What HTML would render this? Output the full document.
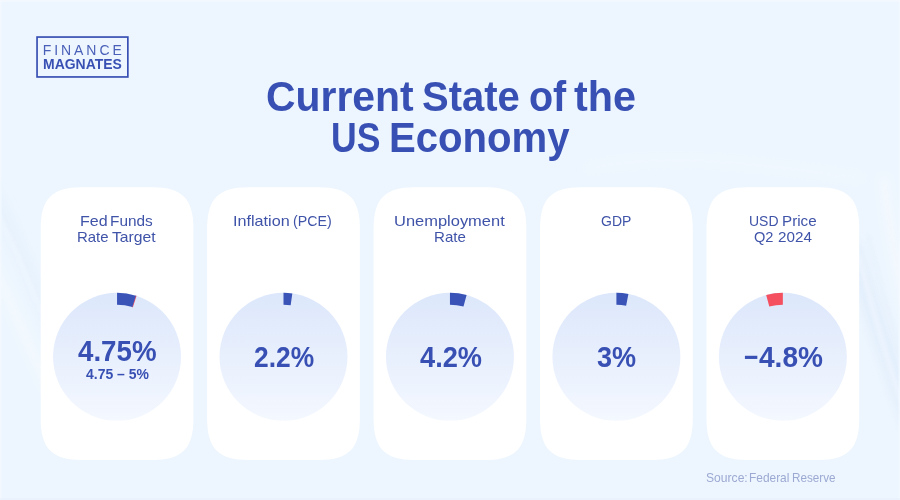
<!DOCTYPE html>
<html lang="en">
<head>
<meta charset="utf-8">
<title>Current State of the US Economy</title>
<style>
html,body{margin:0;padding:0;}
body{width:900px;height:500px;overflow:hidden;background:#edf6fe;font-family:"Liberation Sans",sans-serif;color:#3850b3;}
.stage{position:relative;width:900px;height:500px;overflow:hidden;background:#edf6fe;}
.bg,.art{position:absolute;left:0;top:0;}
.card{position:absolute;top:187.2px;width:152.7px;height:272.8px;border-radius:33px;}
.head,.logo,.foot{position:absolute;left:0;top:0;width:900px;height:0;margin:0;font-size:inherit;font-weight:inherit;}
.t{position:absolute;left:0;width:900px;height:0;line-height:1;font-weight:400;}
.w{position:absolute;top:0;white-space:pre;line-height:1;transform-origin:0 0;}
.title,.value,.sub,.logo2{font-weight:700;}
.label{color:#3f53a8;}
</style>
</head>
<body>
<div class="stage">
<svg class="bg" width="900" height="500" viewBox="0 0 900 500">
<defs><filter id="bl" x="-20%" y="-20%" width="140%" height="140%"><feGaussianBlur stdDeviation="5"/></filter>
<filter id="bs" x="-20%" y="-20%" width="140%" height="140%"><feGaussianBlur stdDeviation="2.2"/></filter></defs>
<g fill="none" stroke-linecap="round">
<g filter="url(#bl)">
<path d="M-20 175 C 10 215 25 270 60 345" stroke="#dfedfc" stroke-width="14" opacity=".45"/>
<path d="M-20 250 C 5 280 20 330 50 390" stroke="#f8fcff" stroke-width="10" opacity=".6"/>
<path d="M852 250 C 874 310 894 380 925 460" stroke="#dbeafb" stroke-width="18" opacity=".6"/>
<path d="M884 180 C 892 250 905 320 930 380" stroke="#f9fcff" stroke-width="10" opacity=".55"/>
<path d="M590 168 C 680 150 780 168 860 178" stroke="#f7fbff" stroke-width="8" opacity=".45"/>
</g>
<g filter="url(#bs)">
<path d="M-10 205 C 18 245 30 290 58 350" stroke="#f9fcff" stroke-width="2.5" opacity=".6"/>
<path d="M858 255 C 874 315 892 378 915 440" stroke="#f9fcff" stroke-width="3" opacity=".7"/>
<path d="M868 235 C 882 292 898 350 922 410" stroke="#e2eefc" stroke-width="2.5" opacity=".6"/>
</g>
</g>
<rect x="0" y="0" width="900" height="2" fill="#f4f9ff" opacity=".8"/>
<rect x="0" y="0" width="1.5" height="500" fill="#f4f9ff" opacity=".8"/>
<rect x="898.5" y="0" width="1.5" height="500" fill="#f4f9ff" opacity=".7"/>
<rect x="0" y="498" width="900" height="2" fill="#e8f1fc" opacity=".7"/>
</svg>
<svg class="art" width="900" height="500" viewBox="0 0 900 500"><defs><linearGradient id="cg" x1="0" y1="0" x2="0" y2="1"><stop offset="0" stop-color="#dce7fb"/><stop offset="1" stop-color="#f4f8ff"/></linearGradient></defs><path d="M40.70 228.20C40.70 198.68 52.18 187.20 81.70 187.20L152.40 187.20C181.92 187.20 193.40 198.68 193.40 228.20L193.40 419.00C193.40 448.52 181.92 460.00 152.40 460.00L81.70 460.00C52.18 460.00 40.70 448.52 40.70 419.00Z" fill="#fff"/><path d="M207.15 228.20C207.15 198.68 218.63 187.20 248.15 187.20L318.85 187.20C348.37 187.20 359.85 198.68 359.85 228.20L359.85 419.00C359.85 448.52 348.37 460.00 318.85 460.00L248.15 460.00C218.63 460.00 207.15 448.52 207.15 419.00Z" fill="#fff"/><path d="M373.60 228.20C373.60 198.68 385.08 187.20 414.60 187.20L485.30 187.20C514.82 187.20 526.30 198.68 526.30 228.20L526.30 419.00C526.30 448.52 514.82 460.00 485.30 460.00L414.60 460.00C385.08 460.00 373.60 448.52 373.60 419.00Z" fill="#fff"/><path d="M540.05 228.20C540.05 198.68 551.53 187.20 581.05 187.20L651.75 187.20C681.27 187.20 692.75 198.68 692.75 228.20L692.75 419.00C692.75 448.52 681.27 460.00 651.75 460.00L581.05 460.00C551.53 460.00 540.05 448.52 540.05 419.00Z" fill="#fff"/><path d="M706.50 228.20C706.50 198.68 717.98 187.20 747.50 187.20L818.20 187.20C847.72 187.20 859.20 198.68 859.20 228.20L859.20 419.00C859.20 448.52 847.72 460.00 818.20 460.00L747.50 460.00C717.98 460.00 706.50 448.52 706.50 419.00Z" fill="#fff"/><circle cx="117.05" cy="356.8" r="64" fill="url(#cg)"/><path d="M135.33 295.47A64 64 0 0 1 136.56 295.85L132.90 307.28A52 52 0 0 0 131.91 306.97Z" fill="#f4505f"/><path d="M117.05 292.80A64 64 0 0 1 135.87 295.63L132.34 307.10A52 52 0 0 0 117.05 304.80Z" fill="#3a53b7"/><circle cx="283.50" cy="356.8" r="64" fill="url(#cg)"/><path d="M283.50 292.80A64 64 0 0 1 292.32 293.41L290.67 305.30A52 52 0 0 0 283.50 304.80Z" fill="#3a53b7"/><circle cx="449.95" cy="356.8" r="64" fill="url(#cg)"/><path d="M449.95 292.80A64 64 0 0 1 466.62 295.01L463.50 306.60A52 52 0 0 0 449.95 304.80Z" fill="#3a53b7"/><circle cx="616.40" cy="356.8" r="64" fill="url(#cg)"/><path d="M616.40 292.80A64 64 0 0 1 628.39 293.93L626.14 305.72A52 52 0 0 0 616.40 304.80Z" fill="#3a53b7"/><circle cx="782.85" cy="356.8" r="64" fill="url(#cg)"/><path d="M766.18 295.01A64 64 0 0 1 782.85 292.80L782.85 304.80A52 52 0 0 0 769.30 306.60Z" fill="#f4505f"/><rect x="37.05" y="37.05" width="90.8" height="39.9" fill="none" stroke="#3850b3" stroke-width="1.7"/></svg>
<div class="logo">
<div class="t logo1" style="top:43.45px;font-size:14.0px;color:#4a60b8"><span class="w" style="left:42.65px;letter-spacing:2.950px">FINANCE</span></div>
<div class="t logo2" style="top:57.62px;font-size:13.8px"><span class="w" style="left:42.87px;transform:scaleX(1.0119)">MAGNATES</span></div>
</div>
<header class="head">
<div class="t title" style="top:75.82px;font-size:41.8px"><span class="w" style="left:266.12px;transform:scaleX(0.9782)">Current </span><span class="w" style="left:422.16px;transform:scaleX(0.9569)">State </span><span class="w" style="left:528.56px;transform:scaleX(0.9443)">of </span><span class="w" style="left:574.30px;transform:scaleX(0.9889)">the</span></div>
<div class="t title" style="top:116.52px;font-size:41.8px"><span class="w" style="left:331.17px;transform:scaleX(0.8512)">US </span><span class="w" style="left:389.03px;transform:scaleX(0.9597)">Economy</span></div>
</header>
<section class="card" style="left:40.70px">
<div class="t label" style="top:26.91px;font-size:14.4px"><span class="w" style="left:39.58px;transform:scaleX(1.1141)">Fed </span><span class="w" style="left:69.34px;transform:scaleX(1.0698)">Funds</span></div>
<div class="t label" style="top:43.01px;font-size:14.4px"><span class="w" style="left:36.07px;transform:scaleX(1.0385)">Rate </span><span class="w" style="left:71.65px;transform:scaleX(1.0932)">Target</span></div>
<div class="t value" style="top:149.45px;font-size:29.0px"><span class="w" style="left:37.38px;transform:scaleX(0.9551)">4.75%</span></div>
<div class="t sub" style="top:180.92px;font-size:13.8px"><span class="w" style="left:45.29px;transform:scaleX(1.0117)">4.75 – 5%</span></div>
</section>
<section class="card" style="left:207.15px">
<div class="t label" style="top:26.91px;font-size:14.4px"><span class="w" style="left:26.26px;transform:scaleX(1.1249)">Inflation </span><span class="w" style="left:85.97px;transform:scaleX(0.9863)">(PCE)</span></div>
<div class="t value" style="top:155.35px;font-size:29.0px"><span class="w" style="left:46.64px;transform:scaleX(0.9093)">2.2%</span></div>
</section>
<section class="card" style="left:373.60px">
<div class="t label" style="top:26.91px;font-size:14.4px"><span class="w" style="left:20.43px;transform:scaleX(1.1439)">Unemployment</span></div>
<div class="t label" style="top:43.01px;font-size:14.4px"><span class="w" style="left:60.16px;transform:scaleX(1.0490)">Rate</span></div>
<div class="t value" style="top:155.35px;font-size:29.0px"><span class="w" style="left:46.09px;transform:scaleX(0.9383)">4.2%</span></div>
</section>
<section class="card" style="left:540.05px">
<div class="t label" style="top:26.91px;font-size:14.4px"><span class="w" style="left:61.25px;transform:scaleX(0.9721)">GDP</span></div>
<div class="t value" style="top:155.35px;font-size:29.0px"><span class="w" style="left:57.04px;transform:scaleX(0.9334)">3%</span></div>
</section>
<section class="card" style="left:706.50px">
<div class="t label" style="top:26.91px;font-size:14.4px"><span class="w" style="left:42.72px;transform:scaleX(0.9718)">USD </span><span class="w" style="left:75.25px;transform:scaleX(1.0552)">Price</span></div>
<div class="t label" style="top:43.01px;font-size:14.4px"><span class="w" style="left:47.41px;transform:scaleX(1.0161)">Q2 </span><span class="w" style="left:71.04px;transform:scaleX(1.0584)">2024</span></div>
<div class="t value" style="top:155.35px;font-size:29.0px"><span class="w" style="left:37.57px;transform:scaleX(0.8526)">−</span><span class="w" style="left:52.98px;transform:scaleX(0.9676)">4.8%</span></div>
</section>
<footer class="foot">
<div class="t source" style="top:472.06px;font-size:12.8px;color:#9ca9d3"><span class="w" style="left:705.85px;transform:scaleX(0.9463)">Source: </span><span class="w" style="left:749.12px;transform:scaleX(0.9302)">Federal </span><span class="w" style="left:791.84px;transform:scaleX(0.9143)">Reserve</span></div>
</footer>
</div>
</body>
</html>
